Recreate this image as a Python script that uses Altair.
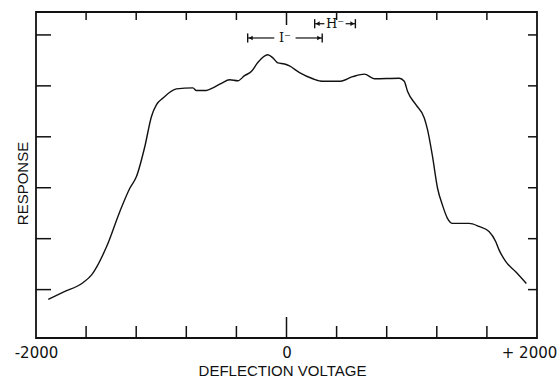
import altair as alt
import pandas as pd

# ---- data ----
voltage = [-1902, -1782, -1623, -1556, -1437, -1331, -1251, -1198, -1131, -1078,
           -1038, -986, -879, -747, -720, -640, -587, -520, -454, -388,
           -335, -281, -229, -149, -109, -69, -16, 24, 104, 210,
           289, 422, 528, 622, 701, 900, 940, 967, 1033, 1100,
           1126, 1166, 1206, 1245, 1285, 1325, 1458, 1538, 1617, 1671,
           1697, 1751, 1830, 1915]
response = [0.81, 0.95, 1.14, 1.29, 1.84, 2.53, 2.99, 3.22, 3.81, 4.40,
            4.63, 4.76, 4.94, 4.96, 4.91, 4.91, 4.96, 5.05, 5.12, 5.10,
            5.20, 5.28, 5.46, 5.61, 5.55, 5.45, 5.43, 5.39, 5.26, 5.14,
            5.09, 5.09, 5.18, 5.23, 5.14, 5.15, 5.09, 4.89, 4.63, 4.37,
            4.14, 3.61, 2.99, 2.66, 2.40, 2.30, 2.30, 2.24, 2.14, 1.94,
            1.78, 1.55, 1.35, 1.12]

x_minor_ticks = [-1600, -1200, -800, -400, 400, 800, 1200, 1600]
x_zero_tick = [0]
y_ticks = [1, 2, 3, 4, 5, 6]
x_label_values = [-2000, 0, 2000]
x_label_texts = ["-2000", "0", "+ 2000"]

arrow_labels = ["I\u207b", "H\u207b"]
arrow_start = [-310, 225]
arrow_end = [285, 550]
arrow_level = [5.94, 6.22]

W, H = 501, 326
FONT = "Liberation Sans"
INK = "#111111"

xs = alt.Scale(domain=[-2000, 2000], nice=False, zero=False)
ys = alt.Scale(domain=[0.05, 6.45], nice=False, zero=False)

curve = pd.DataFrame({"v": voltage, "r": response})

label_expr = " : ".join(
    f"datum.value == {v} ? '{t}'" for v, t in zip(x_label_values, x_label_texts)
) + " : ''"

line = alt.Chart(curve).mark_line(color=INK, strokeWidth=1.4, interpolate="monotone").encode(
    x=alt.X("v:Q", scale=xs, axis=alt.Axis(
        values=x_label_values, labelExpr=label_expr, ticks=False, domain=False, grid=False,
        labelFlush=False, labelOverlap=False,
        labelFont="DejaVu Sans", labelFontSize=15, labelColor=INK, labelPadding=7,
        labelOffset=alt.condition("datum.value == 2000", alt.value(-8), alt.value(0)),
        title="DEFLECTION VOLTAGE", titleFont=FONT, titleFontSize=15,
        titleFontWeight="normal", titleColor=INK, titlePadding=3, titleX=246)),
    y=alt.Y("r:Q", scale=ys, axis=alt.Axis(
        ticks=False, labels=False, domain=False, grid=False,
        title="RESPONSE", titleFont=FONT, titleFontSize=15, titleFontWeight="normal",
        titleColor=INK, titlePadding=6, titleY=171)),
)

xt = pd.DataFrame({"v": x_minor_ticks})
xz = pd.DataFrame({"v": x_zero_tick})
yt = pd.DataFrame({"r": y_ticks})

tick_style = dict(color=INK, strokeWidth=1.5)
bottom_ticks = alt.Chart(xt).mark_rule(**tick_style).encode(
    x=alt.X("v:Q", scale=xs), y=alt.value(H), y2=alt.value(H - 12))
bottom_zero = alt.Chart(xz).mark_rule(**tick_style).encode(
    x=alt.X("v:Q", scale=xs), y=alt.value(H), y2=alt.value(H - 21))
top_ticks = alt.Chart(xt).mark_rule(**tick_style).encode(
    x=alt.X("v:Q", scale=xs), y=alt.value(0), y2=alt.value(8))
top_zero = alt.Chart(xz).mark_rule(**tick_style).encode(
    x=alt.X("v:Q", scale=xs), y=alt.value(0), y2=alt.value(13))
left_ticks = alt.Chart(yt).mark_rule(**tick_style).encode(
    y=alt.Y("r:Q", scale=ys), x=alt.value(0), x2=alt.value(15))
right_ticks = alt.Chart(yt).mark_rule(**tick_style).encode(
    y=alt.Y("r:Q", scale=ys), x=alt.value(W), x2=alt.value(W - 9))

arr = pd.DataFrame({"lab": arrow_labels, "x1": arrow_start, "x2": arrow_end, "lvl": arrow_level})
arr["mid"] = (arr["x1"] + arr["x2"]) / 2
arr["gl"] = arr["mid"] - 85
arr["gr"] = arr["mid"] + 85
arr["lo"] = arr["lvl"] - 0.09
arr["hi"] = arr["lvl"] + 0.09

seg_l = alt.Chart(arr).mark_rule(color=INK, strokeWidth=1.2).encode(
    x=alt.X("x1:Q", scale=xs), x2="gl:Q", y=alt.Y("lvl:Q", scale=ys))
seg_r = alt.Chart(arr).mark_rule(color=INK, strokeWidth=1.2).encode(
    x=alt.X("gr:Q", scale=xs), x2="x2:Q", y=alt.Y("lvl:Q", scale=ys))
bar_l = alt.Chart(arr).mark_rule(color=INK, strokeWidth=1.4).encode(
    x=alt.X("x1:Q", scale=xs), y=alt.Y("lo:Q", scale=ys), y2="hi:Q")
bar_r = alt.Chart(arr).mark_rule(color=INK, strokeWidth=1.4).encode(
    x=alt.X("x2:Q", scale=xs), y=alt.Y("lo:Q", scale=ys), y2="hi:Q")
head_l = alt.Chart(arr).mark_point(shape="triangle-left", filled=True, color=INK,
                                   size=22, xOffset=3, opacity=1).encode(
    x=alt.X("x1:Q", scale=xs), y=alt.Y("lvl:Q", scale=ys))
head_r = alt.Chart(arr).mark_point(shape="triangle-right", filled=True, color=INK,
                                   size=22, xOffset=-3, opacity=1).encode(
    x=alt.X("x2:Q", scale=xs), y=alt.Y("lvl:Q", scale=ys))
labels = alt.Chart(arr).mark_text(font="DejaVu Serif", fontSize=13, color=INK,
                                  baseline="middle", align="center").encode(
    x=alt.X("mid:Q", scale=xs), y=alt.Y("lvl:Q", scale=ys), text="lab:N")

chart = alt.layer(
    line, bottom_ticks, bottom_zero, top_ticks, top_zero, left_ticks, right_ticks,
    seg_l, seg_r, bar_l, bar_r, head_l, head_r, labels
).properties(
    width=W, height=H,
    autosize=alt.AutoSizeParams(type="none"),
    padding={"left": 36, "top": 12, "right": 20, "bottom": 43},
    background="white",
).configure_view(stroke=INK, strokeWidth=1.8)

chart.save("out.html", embed_options={"renderer": "svg", "actions": False})
